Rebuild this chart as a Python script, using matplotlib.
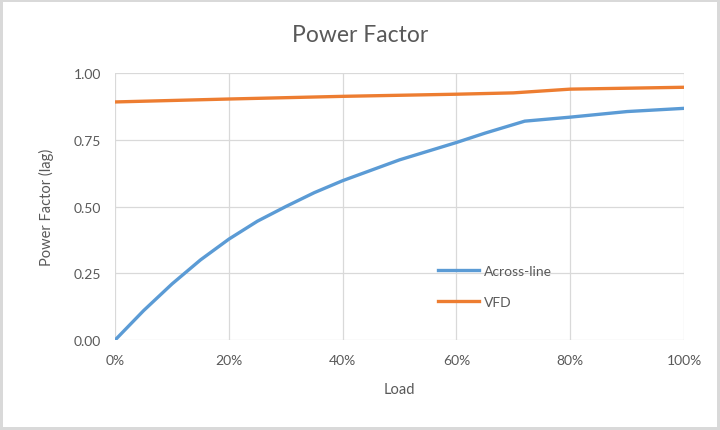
import matplotlib
matplotlib.use("Agg")
import matplotlib.pyplot as plt
from matplotlib.ticker import PercentFormatter, FormatStrFormatter

# data
load_across = [0, 5, 10, 15, 20, 25, 30, 35, 40, 50, 60, 65, 72, 80, 90, 100]
pf_across = [0.0, 0.11, 0.21, 0.30, 0.378, 0.445, 0.50, 0.552, 0.597, 0.675, 0.74, 0.775, 0.82, 0.835, 0.856, 0.868]

load_vfd = [0, 20, 40, 60, 70, 80, 100]
pf_vfd = [0.892, 0.903, 0.913, 0.921, 0.926, 0.94, 0.947]

xticks = [0, 20, 40, 60, 80, 100]
yticks = [0.0, 0.25, 0.5, 0.75, 1.0]

plt.rcParams['font.family'] = ['Lato', 'DejaVu Sans']
grey = '#595959'

fig = plt.figure(figsize=(7.2, 4.31), dpi=100)
fig.patch.set_edgecolor('#d9d9d9')
fig.patch.set_linewidth(3)
ax = fig.add_axes([0.16, 0.209, 0.79, 0.619])

ax.plot(load_across, pf_across, color='#5B9BD5', lw=2.4, label='Across-line')
ax.plot(load_vfd, pf_vfd, color='#ED7D31', lw=2.4, label='VFD')

ax.set_xlim(0, 100)
ax.set_ylim(0, 1)
ax.set_xticks(xticks)
ax.set_yticks(yticks)
ax.xaxis.set_major_formatter(PercentFormatter(decimals=0))
ax.yaxis.set_major_formatter(FormatStrFormatter('%.2f'))
ax.grid(True, color='#d9d9d9', lw=0.9)
ax.set_axisbelow(True)
for s in ax.spines.values():
    s.set_visible(False)
ax.tick_params(length=0, colors=grey, labelsize=10)
ax.tick_params(axis='y', pad=10)
ax.tick_params(axis='x', pad=10)

fig.text(0.5, 1 - 36 / 431, 'Power Factor', fontsize=16.5, color=grey,
         ha='center', va='center')
ax.set_xlabel('Load', fontsize=10.5, color=grey, labelpad=12)
ax.set_ylabel('Power Factor (lag)', fontsize=10.5, color=grey, labelpad=14)

ax.legend(loc='center left', bbox_to_anchor=(0.545, 0.2), frameon=False,
          fontsize=10, labelcolor=grey, labelspacing=1.4,
          handlelength=3, handletextpad=0.3)

fig.savefig('out.png', dpi=100)
